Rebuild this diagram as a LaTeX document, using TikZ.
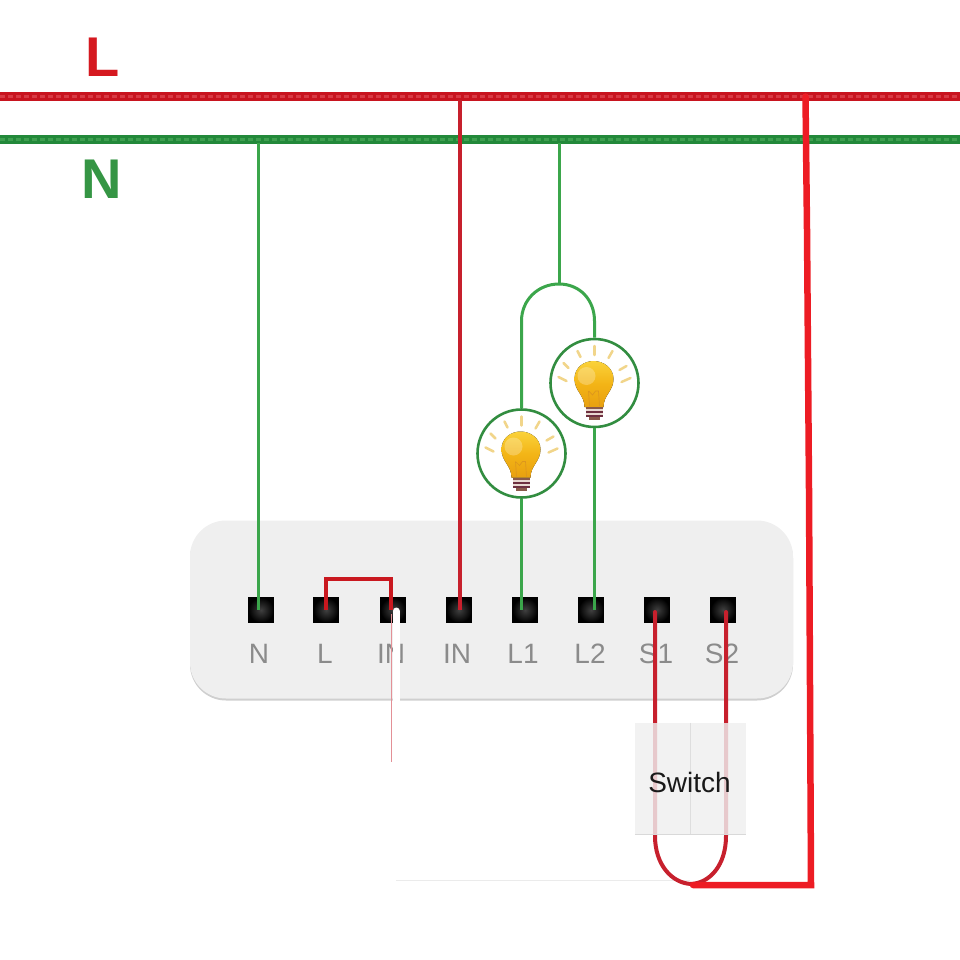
\documentclass[tikz,border=0pt]{standalone}
\usepackage{fontspec}
\setmainfont{Liberation Sans}
\definecolor{busred}{HTML}{C8141F}
\definecolor{buslt}{HTML}{D83A44}
\definecolor{busgreen}{HTML}{23893A}
\definecolor{buslg}{HTML}{3F9F50}
\definecolor{wgreen}{HTML}{3BA64B}
\definecolor{wred}{HTML}{C7202D}
\definecolor{bright}{HTML}{ED1C24}
\definecolor{panelf}{HTML}{EFEFEF}
\definecolor{paneld}{HTML}{CFCFCF}
\definecolor{lab}{HTML}{8B8B8B}
\definecolor{ray}{HTML}{F1D58A}
\definecolor{glassa}{HTML}{FAD23A}
\definecolor{glassb}{HTML}{F3B416}
\definecolor{glassc}{HTML}{E8A010}
\definecolor{capa}{HTML}{8A5A4A}
\definecolor{capb}{HTML}{E8D8D0}
\definecolor{capc}{HTML}{6E3040}
\begin{document}
\begin{tikzpicture}[x=1pt,y=-1pt,
  busr/.style={line width=8.5pt,busred},
  busg/.style={line width=8.5pt,busgreen},
  tex/.style={line width=3.5pt,dash pattern=on 5pt off 3pt},
  gw/.style={line width=3pt,wgreen},
  rw/.style={line width=3.5pt,wred},
  sw/.style={line width=4pt,wred},
  bw/.style={line width=6.5pt,bright},
  term/.style={minimum size=25pt,inner sep=0pt,draw=black,line width=.5pt,inner color=black!75,outer color=black},
  tlab/.style={text=lab,font=\fontsize{28}{30}\selectfont,inner sep=0pt},
  busl/.style={font=\fontsize{56}{60}\selectfont\bfseries,inner sep=0pt},
  ring/.style={circle,draw=wgreen!85!black,line width=2.6pt,fill=white,minimum size=88pt,inner sep=0pt},
  rayl/.style={ray,line width=2.5pt,line cap=round},
  panelshape/.style={rounded corners=36pt,minimum width=603pt,minimum height=178pt,inner sep=0pt},
  switchf/.style={fill=panelf,fill opacity=.82,draw=none}]
\useasboundingbox (0,0) rectangle (960,960);

% panel
\node[panelshape,fill=paneld] (panelshadow) at (491.5,611.5) {};
\node[panelshape,fill=panelf] (panel) at (491.5,609.5) {};

% buses
\coordinate (LW) at (0,96.5); \coordinate (LE) at (960,96.5);
\coordinate (NW) at (0,139.5); \coordinate (NE) at (960,139.5);
\draw[busr] (LW) -- (LE);
\draw[tex,buslt] (LW) -- (LE);
\draw[busg] (NW) -- (NE);
\draw[tex,buslg] (NW) -- (NE);
\node[busl,text=bright!90!black] (Ltxt) at (103,57) {L};
\node[busl,text=wgreen!90!black] (Ntxt) at (102,179) {N};

% terminals
\foreach \nm/\x in {tN/261,tL/326,tI/393,tIN/459,tLa/525,tLb/591,tSa/657,tSb/723}
  \node[term] (\nm) at (\x,610) {};
\foreach \nm/\x/\t in {lN/259/N,lL/325/L,lI/391/IN,lIN/457/IN,lLa/523/L1,lLb/590/L2,lSa/656/S1,lSb/722/S2}
  \node[tlab] (\nm) at (\x,653.5) {\t};

% bulbs' rings
\node[ring] (ba) at (521.5,453.5) {};
\node[ring] (bb) at (594.5,383) {};

% helper points
\coordinate (tapN) at (258.5,143);
\coordinate (tapI) at (460,100);
\coordinate (tapL) at (559,143);
\coordinate (apex) at (559,284);
\coordinate (tapB) at (805.5,96.5);
\coordinate (bA) at (807,230);
\coordinate (bB) at (809,490);
\coordinate (bC) at (811,885);
\coordinate (bD) at (693,885);
\coordinate (jA) at (326,579);
\coordinate (jB) at (390.5,579);
\coordinate (wA) at (396,880.5);
\coordinate (wB) at (690,880.5);
\coordinate (pA) at (391.5,614);

% green wires
\draw[gw] (tapN) -- (tapN |- tN.center);
\draw[gw] (tapL) -- (apex);
\draw[gw] (ba.north) -- (ba.north |- 0,321) .. controls (521.5,300) and (538,284) .. (apex)
   .. controls (580,284) and (594.5,300) .. (594.5,321) -- (bb.north);
\draw[gw] (ba.south) -- (ba.south |- tLa.center);
\draw[gw] (bb.south) -- (bb.south |- tLb.center);

% red wires
\draw[rw] (tapI) -- (tapI |- tIN.center);
\draw[line width=4pt,bright!85!black,line join=miter] (tL.center) -- (tL.center |- jA) -- (jB) -- (jB |- tI.center);

% pale remains and white overlay
\draw[wred!50,line width=.8pt] (pA) -- (391.5,762);
\draw[white,line width=7pt,line cap=round] (396,611) -- (396,780);
\draw[black!8,line width=.8pt] (wA) -- (wB);

% switch wires
\draw[sw,line cap=round] (655,612) -- (655,836) .. controls (655,865) and (672,883) .. (691,884)
   .. controls (710,883) and (726,865) .. (726,836) -- (726,612);
\node[switchf,minimum width=111pt,minimum height=111pt,inner sep=0pt] (sbox) at (690.5,778.5) {};
\draw[black!13,line width=1pt] (sbox.north) -- (sbox.south);
\draw[black!15,line width=1pt] (sbox.south west) -- (sbox.south east);
\node[inner sep=0pt,text=black!90,font=\fontsize{28}{30}\selectfont] (swt) at (689.5,782) {Switch};

% thick live wire
\draw[bw,line cap=round,line join=miter] (bD) -- (bC) -- (bB) -- (bA) -- (tapB);

% bulbs
\foreach \c in {ba,bb}{
  \begin{scope}[shift={(\c.center)}]
    \foreach \a/\b/\e/\f in {0/-28/0/-37, -14/-26/-17/-32, 14/-25/18/-32, -26/-15/-31/-20, 25/-13/32/-17, -28/-2/-36/-6, 27/-1/36/-5}
      \draw[rayl] (\a,\b) -- (\e,\f);
    \fill[top color=glassa,bottom color=glassc,middle color=glassb]
      (-10,24) .. controls (-10,12) and (-20,8) .. (-20,-4)
      .. controls (-20,-16) and (-10,-22) .. (-1,-22)
      .. controls (9,-22) and (19,-15) .. (19,-4)
      .. controls (19,8) and (9,12) .. (9,24) -- cycle;
    \fill[white,opacity=.25] (-8,-7) circle[radius=9];
    \draw[glassc!70!brown,line width=.7pt] (-5,23) -- (-6,8) (5,23) -- (4,8) (-6,8) -- (-2,12) -- (1,8) -- (4,8);
    \fill[capa] (-9,24) rectangle (8,26);
    \fill[capb] (-9,26) rectangle (8,28);
    \fill[capc] (-9,28) rectangle (8,30);
    \fill[capb] (-9,30) rectangle (8,32);
    \fill[capc] (-9,32) rectangle (8,34);
    \fill[capa] (-6,34) rectangle (5,37);
  \end{scope}
}
\end{tikzpicture}
\end{document}
